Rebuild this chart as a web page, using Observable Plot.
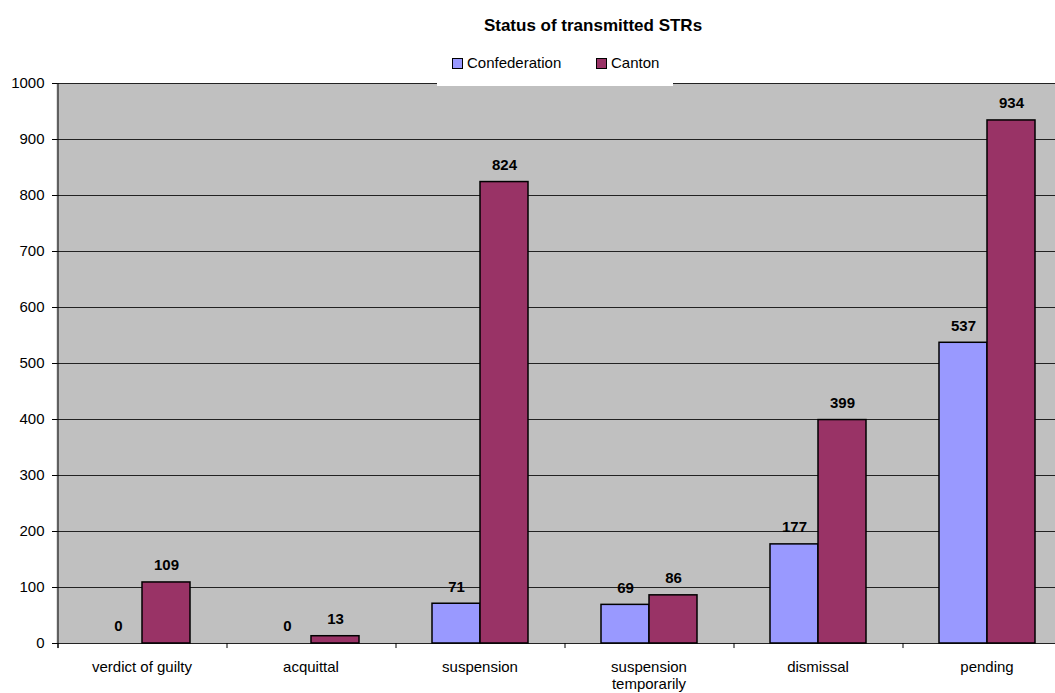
<!DOCTYPE html>
<html>
<head>
<meta charset="utf-8">
<script src="https://cdn.jsdelivr.net/npm/d3@7"></script>
<script src="https://cdn.jsdelivr.net/npm/@observablehq/plot@0.6"></script>
<style>
  html, body { margin: 0; padding: 0; background: #fff; }
  #wrap { position: relative; width: 1055px; height: 693px; font-family: "Liberation Sans", Arial, sans-serif; color: #000; overflow: hidden; }
  #title { position: absolute; top: 16px; left: 593px; transform: translateX(-50%); font-size: 17px; font-weight: bold; white-space: nowrap; }
  #legend { position: absolute; left: 437px; top: 47px; width: 236px; height: 39px; background: #fff; font-size: 15px; }
  .sw { position: absolute; top: 11px; width: 9px; height: 9px; border: 1px solid #000; box-sizing: content-box; }
  .lt { position: absolute; top: 7px; white-space: nowrap; line-height: 17px; }
  #chart { position: absolute; left: 0; top: 0; }
  #chart svg { max-width: none !important; }
</style>
</head>
<body>
<div id="wrap">
  <div id="chart"></div>
  <div id="title"></div>
  <div id="legend"></div>
</div>
<script>
const title = "Status of transmitted STRs";
const categories = ["verdict of guilty", "acquittal", "suspension", "suspension temporarily", "dismissal", "pending"];
const tickLabels = ["verdict of guilty", "acquittal", "suspension", "suspension\ntemporarily", "dismissal", "pending"];
const seriesNames = ["Confederation", "Canton"];
const seriesColors = ["#9999FF", "#993366"];
const confederation = [0, 0, 71, 69, 177, 537];
const canton = [109, 13, 824, 86, 399, 934];
const yTicks = [0, 100, 200, 300, 400, 500, 600, 700, 800, 900, 1000];

const data = [];
categories.forEach((c, i) => {
  data.push({category: c, series: seriesNames[0], value: confederation[i]});
  data.push({category: c, series: seriesNames[1], value: canton[i]});
});

// layout
const facetW = 169, step = 48;
const mL = 57, mR = 0, mT = 83, mB = 50, H = 693;
const W = mL + mR + facetW * categories.length;
const padOuter = (facetW / step - 2) / 2;
const edgeDx = -(facetW - step) / 2; // from centre of first band to facet left edge

const firstFacet = [{category: categories[0]}];
const allFacets = categories.map(c => ({category: c}));

const chart = Plot.plot({
  width: W,
  height: H,
  marginLeft: mL,
  marginRight: mR,
  marginTop: mT,
  marginBottom: mB,
  style: {fontFamily: '"Liberation Sans", Arial, sans-serif', fontSize: "15px", background: "transparent", color: "#000", overflow: "visible", maxWidth: "none"},
  fx: {domain: categories, padding: 0, label: null},
  x: {domain: seriesNames, paddingInner: 0, paddingOuter: padOuter, axis: null},
  y: {domain: [0, 1000], label: null},
  color: {domain: seriesNames, range: seriesColors},
  marks: [
    Plot.frame({fill: "#C0C0C0", stroke: null, insetLeft: -1, insetRight: -1}),
    Plot.ruleY(yTicks, {stroke: "#222", strokeWidth: 1}),
    // category boundary ticks below the x axis
    Plot.ruleX(allFacets, {fx: "category", x: () => seriesNames[0], dx: edgeDx, y1: 0, y2: -9, stroke: "#000"}),
    // y axis line
    Plot.ruleX(firstFacet, {fx: "category", x: () => seriesNames[0], dx: edgeDx, y1: -9, y2: 1000, stroke: "#000"}),
    Plot.barY(data.filter(d => d.value > 0), {fx: "category", x: "series", y: "value", fill: "series", stroke: "#000", strokeWidth: 1.5}),
    Plot.text(data, {fx: "category", x: "series", y: "value", text: d => String(d.value), dy: -17, lineAnchor: "middle", fontWeight: "bold", fontSize: 15, fill: "#000"}),
    Plot.axisY({ticks: yTicks, tickSize: 5, tickPadding: 8, fontSize: 15, label: null, tickFormat: d => String(d)}),
    Plot.axisFx({anchor: "bottom", tickSize: 0, tickPadding: 17, fontSize: 15, label: null, tickFormat: (d) => tickLabels[categories.indexOf(d)], lineHeight: 1.1})
  ]
});
chart.style.maxWidth = "none";
document.getElementById("chart").appendChild(chart);
document.getElementById("title").textContent = title;

const legend = document.getElementById("legend");
const legendPos = [{sw: 15, tx: 30}, {sw: 159, tx: 174}];
seriesNames.forEach((s, i) => {
  const sw = document.createElement("div");
  sw.className = "sw";
  sw.style.left = legendPos[i].sw + "px";
  sw.style.background = seriesColors[i];
  legend.appendChild(sw);
  const t = document.createElement("div");
  t.className = "lt";
  t.style.left = legendPos[i].tx + "px";
  t.textContent = s;
  legend.appendChild(t);
});
</script>
</body>
</html>
